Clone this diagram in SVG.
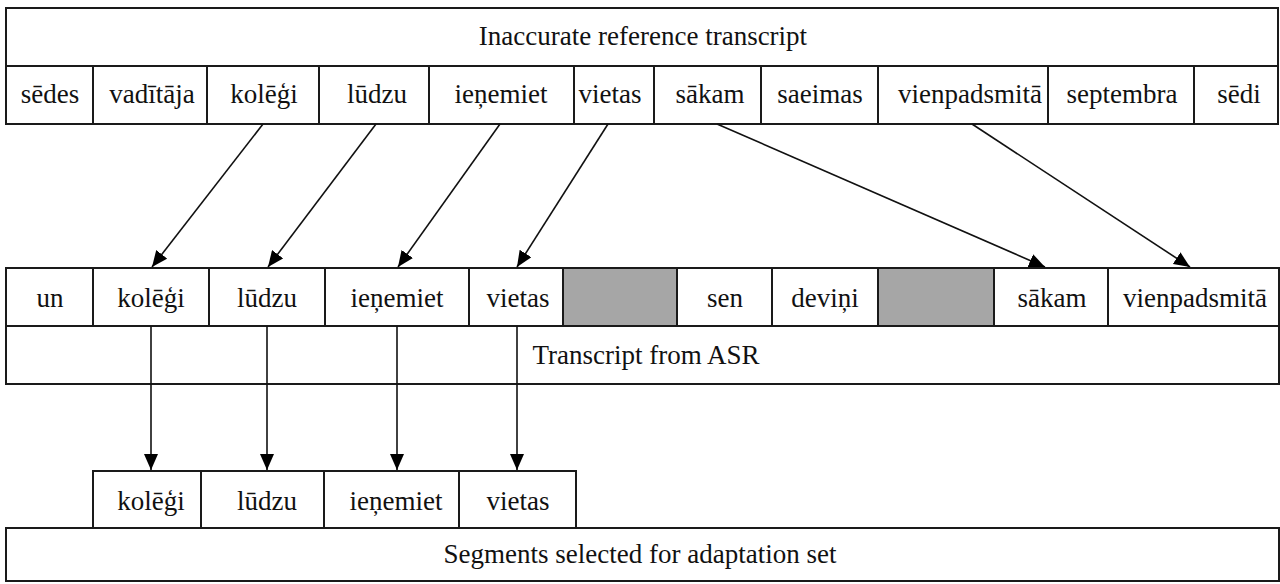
<svg xmlns="http://www.w3.org/2000/svg" width="1280" height="584" viewBox="0 0 1280 584">
<defs>
<style>
.box{fill:#fff;stroke:#1a1a1a;stroke-width:2}
.gray{fill:#a6a6a6;stroke:#1a1a1a;stroke-width:2}
.div{stroke:#1a1a1a;stroke-width:2}
.t{font-family:"Liberation Serif","Times New Roman",serif;font-size:27px;fill:#111;text-anchor:middle}
.con{stroke:#111;stroke-width:1.6;fill:none;marker-end:url(#ah)}
</style>
<marker id="ah" viewBox="0 0 16 14" refX="16" refY="7" markerWidth="16" markerHeight="14" markerUnits="userSpaceOnUse" orient="auto">
<path d="M0,0 L16,7 L0,14 z" fill="#000"/>
</marker>
</defs>
<rect width="1280" height="584" fill="#fff"/>

<g id="reference">
<rect class="box" x="6" y="8" width="1272" height="116"/>
<line class="div" x1="6" y1="66" x2="1278" y2="66"/>
<text class="t" x="643" y="45">Inaccurate reference transcript</text>
<g id="ref-cells">
<line class="div" x1="93" y1="66" x2="93" y2="124"/>
<line class="div" x1="207" y1="66" x2="207" y2="124"/>
<line class="div" x1="319" y1="66" x2="319" y2="124"/>
<line class="div" x1="429" y1="66" x2="429" y2="124"/>
<line class="div" x1="574" y1="66" x2="574" y2="124"/>
<line class="div" x1="654" y1="66" x2="654" y2="124"/>
<line class="div" x1="761" y1="66" x2="761" y2="124"/>
<line class="div" x1="878" y1="66" x2="878" y2="124"/>
<line class="div" x1="1048" y1="66" x2="1048" y2="124"/>
<line class="div" x1="1194" y1="66" x2="1194" y2="124"/>
<text class="t" x="50" y="103">sēdes</text>
<text class="t" x="152" y="103">vadītāja</text>
<text class="t" x="264" y="103">kolēģi</text>
<text class="t" x="377" y="103">lūdzu</text>
<text class="t" x="501" y="103">ieņemiet</text>
<text class="t" x="610" y="103">vietas</text>
<text class="t" x="710" y="103">sākam</text>
<text class="t" x="820" y="103">saeimas</text>
<text class="t" x="970" y="103">vienpadsmitā</text>
<text class="t" x="1122" y="103">septembra</text>
<text class="t" x="1239" y="103">sēdi</text>
</g>
</g>

<g id="asr">
<rect class="box" x="6" y="268" width="1273" height="116"/>
<line class="div" x1="6" y1="326" x2="1279" y2="326"/>
<rect class="gray" x="563" y="268" width="114" height="58"/>
<rect class="gray" x="878" y="268" width="116" height="58"/>
<line class="div" x1="93" y1="268" x2="93" y2="326"/>
<line class="div" x1="209" y1="268" x2="209" y2="326"/>
<line class="div" x1="325" y1="268" x2="325" y2="326"/>
<line class="div" x1="469" y1="268" x2="469" y2="326"/>
<line class="div" x1="772" y1="268" x2="772" y2="326"/>
<line class="div" x1="1108" y1="268" x2="1108" y2="326"/>
<text class="t" x="50" y="307">un</text>
<text class="t" x="151" y="307">kolēģi</text>
<text class="t" x="267" y="307">lūdzu</text>
<text class="t" x="397" y="307">ieņemiet</text>
<text class="t" x="518" y="307">vietas</text>
<text class="t" x="725" y="307">sen</text>
<text class="t" x="825" y="307">deviņi</text>
<text class="t" x="1052" y="307">sākam</text>
<text class="t" x="1195" y="307">vienpadsmitā</text>
<text class="t" x="646" y="364">Transcript from ASR</text>
</g>

<g id="selected">
<rect class="box" x="93" y="471" width="483" height="57"/>
<line class="div" x1="201" y1="471" x2="201" y2="528"/>
<line class="div" x1="324" y1="471" x2="324" y2="528"/>
<line class="div" x1="459" y1="471" x2="459" y2="528"/>
<text class="t" x="151" y="510">kolēģi</text>
<text class="t" x="267" y="510">lūdzu</text>
<text class="t" x="396" y="510">ieņemiet</text>
<text class="t" x="518" y="510">vietas</text>
</g>

<g id="adaptation">
<rect class="box" x="6" y="528" width="1273" height="53"/>
<text class="t" x="640" y="563">Segments selected for adaptation set</text>
</g>

<g id="connectors">
<line class="con" x1="263" y1="124" x2="152" y2="267"/>
<line class="con" x1="376" y1="124" x2="268" y2="267"/>
<line class="con" x1="500" y1="124" x2="398" y2="267"/>
<line class="con" x1="608" y1="124" x2="517" y2="267"/>
<line class="con" x1="717" y1="124" x2="1045" y2="267"/>
<line class="con" x1="972" y1="124" x2="1190" y2="267"/>
<line class="con" x1="151" y1="326" x2="151" y2="470"/>
<line class="con" x1="267" y1="326" x2="267" y2="470"/>
<line class="con" x1="397" y1="326" x2="397" y2="470"/>
<line class="con" x1="517" y1="326" x2="517" y2="470"/>
</g>
</svg>
